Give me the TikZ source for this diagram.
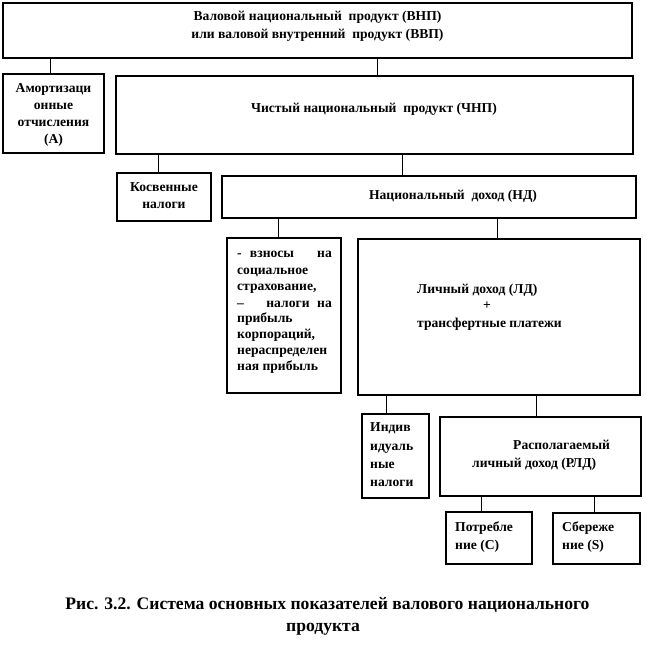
\documentclass[tikz,border=0pt]{standalone}
\usepackage{fontspec}
\setmainfont{Liberation Serif}
\begin{document}
\begin{tikzpicture}[x=1pt,y=-1pt,
  box/.style={draw=black,line width=1.2pt,inner sep=0pt,fill=white},
  conn/.style={draw=black,line width=0.9pt},
  txt/.style={inner sep=0pt,yshift=-2.5pt,font=\fontsize{13.6}{15}\selectfont\bfseries},
  captxt/.style={inner sep=0pt,yshift=-3pt,font=\fontsize{17.6}{20}\selectfont\bfseries}]
\useasboundingbox[fill=white] (0,0) rectangle (646,651);
% boxes
\node[box,minimum width=629pt,minimum height=55pt] (vnp) at (317.5,30.5) {};
\node[box,minimum width=101pt,minimum height=79pt] (am) at (53.5,113.5) {};
\node[box,minimum width=517pt,minimum height=78pt] (chnp) at (374.5,115) {};
\node[box,minimum width=94pt,minimum height=48pt] (kosv) at (164,197) {};
\node[box,minimum width=414pt,minimum height=42pt] (nd) at (429,197) {};
\node[box,minimum width=114pt,minimum height=155pt] (vz) at (284,315.5) {};
\node[box,minimum width=282pt,minimum height=156pt] (ld) at (499,317) {};
\node[box,minimum width=67pt,minimum height=84pt] (ind) at (395.5,456) {};
\node[box,minimum width=201pt,minimum height=79pt] (rld) at (540.5,456.5) {};
\node[box,minimum width=86pt,minimum height=52pt] (potr) at (489,538) {};
\node[box,minimum width=87pt,minimum height=51pt] (sber) at (596.5,538.5) {};
% connector x positions
\coordinate (c1) at (50,0);
\coordinate (c2) at (377,0);
\coordinate (c3) at (158,0);
\coordinate (c4) at (402,0);
\coordinate (c5) at (278,0);
\coordinate (c6) at (497,0);
\coordinate (c7) at (386,0);
\coordinate (c8) at (536,0);
\coordinate (c9) at (481,0);
\coordinate (c10) at (594,0);
\draw[conn] (vnp.south -| c1) -- (am.north -| c1);
\draw[conn] (vnp.south -| c2) -- (chnp.north -| c2);
\draw[conn] (chnp.south -| c3) -- (kosv.north -| c3);
\draw[conn] (chnp.south -| c4) -- (nd.north -| c4);
\draw[conn] (nd.south -| c5) -- (vz.north -| c5);
\draw[conn] (nd.south -| c6) -- (ld.north -| c6);
\draw[conn] (ld.south -| c7) -- (ind.north -| c7);
\draw[conn] (ld.south -| c8) -- (rld.north -| c8);
\draw[conn] (rld.south -| c9) -- (potr.north -| c9);
\draw[conn] (rld.south -| c10) -- (sber.north -| c10);
% texts
\node[txt,anchor=mid] (t1) at (317.5,16) {Валовой национальный\ \ продукт (ВНП)};
\node[txt,anchor=mid] (t2) at (317.5,34) {или валовой внутренний\ \ продукт (ВВП)};
\node[txt,anchor=mid] (a1) at (53.5,88) {Амортизаци};
\node[txt,anchor=mid] (a2) at (53.5,105) {онные};
\node[txt,anchor=mid] (a3) at (53.5,122) {отчисления};
\node[txt,anchor=mid] (a4) at (53.5,139) {(А)};
\node[txt,anchor=mid] (ch) at (374,108) {Чистый национальный\ \ продукт (ЧНП)};
\node[txt,anchor=mid] (k1) at (164,187) {Косвенные};
\node[txt,anchor=mid] (k2) at (164,204) {налоги};
\node[txt,anchor=mid] (nd1) at (453,195) {Национальный\ \ доход (НД)};
% vz box lines
\node[txt,anchor=mid west] (v1a) at (237,253) {-};
\node[txt,anchor=mid] (v1b) at (272,253) {взносы};
\node[txt,anchor=mid east] (v1c) at (332,253) {на};
\node[txt,anchor=mid west] (v2) at (237,270) {социальное};
\node[txt,anchor=mid west] (v3) at (237,286) {страхование,};
\node[txt,anchor=mid west] (v4a) at (237,303) {–};
\node[txt,anchor=mid] (v4b) at (288,303) {налоги};
\node[txt,anchor=mid east] (v4c) at (332,303) {на};
\node[txt,anchor=mid west] (v5) at (237,318) {прибыль};
\node[txt,anchor=mid west] (v6) at (237,334) {корпораций,};
\node[txt,anchor=mid west] (v7) at (237,350) {нераспределен};
\node[txt,anchor=mid west] (v8) at (237,366) {ная прибыль};
% ld
\node[txt,anchor=mid west] (l1) at (417,289) {Личный доход (ЛД)};
\node[txt,anchor=mid] (l2) at (487,305) {+};
\node[txt,anchor=mid west] (l3) at (417,323) {трансфертные платежи};
% ind
\node[txt,anchor=mid west] (i1) at (370,427) {Индив};
\node[txt,anchor=mid west] (i2) at (370,446) {идуаль};
\node[txt,anchor=mid west] (i3) at (370,464) {ные};
\node[txt,anchor=mid west] (i4) at (370,482) {налоги};
% rld
\node[txt,anchor=mid west] (r1) at (513,445) {Располагаемый};
\node[txt,anchor=mid west] (r2) at (472,463) {личный доход (РЛД)};
% potr, sber
\node[txt,anchor=mid west] (p1) at (455,527) {Потребле};
\node[txt,anchor=mid west] (p2) at (455,545) {ние (С)};
\node[txt,anchor=mid west] (s1) at (562,527) {Сбереже};
\node[txt,anchor=mid west] (s2) at (562,545) {ние (S)};
% caption
\node[captxt,anchor=mid] (cp1) at (327.5,604) {Рис. 3.2. Система основных показателей валового национального};
\node[captxt,anchor=mid] (cp2) at (323,626) {продукта};
\end{tikzpicture}
\end{document}
